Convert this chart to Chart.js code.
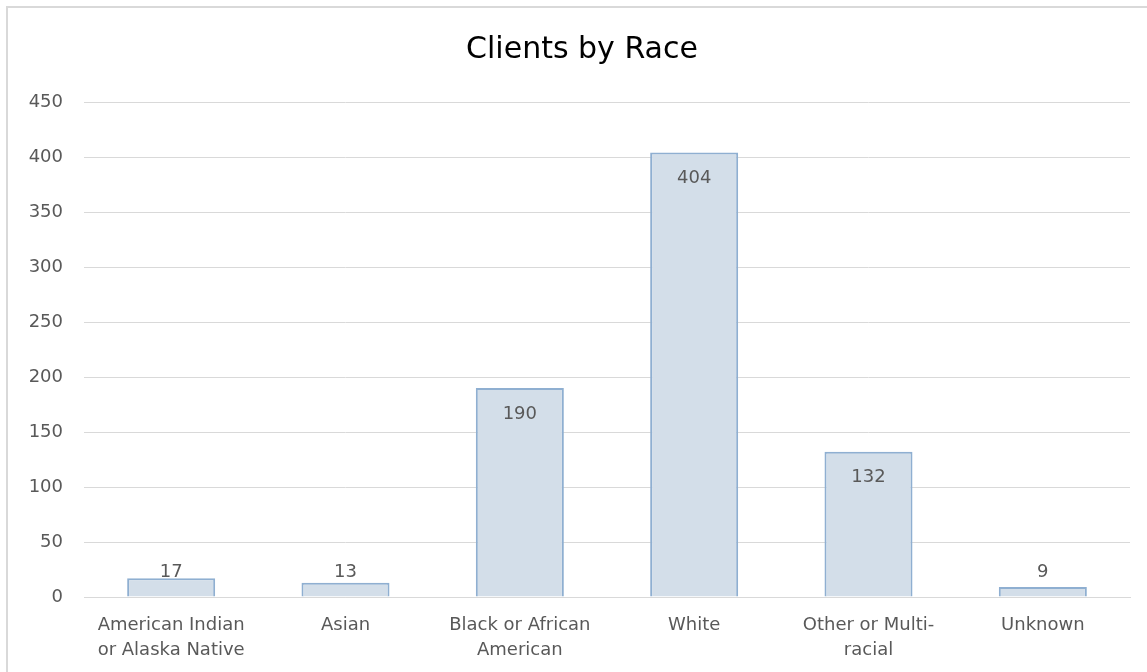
<!DOCTYPE html>
<html>
<head>
<meta charset="utf-8">
<script src="https://cdn.jsdelivr.net/npm/chart.js@4/dist/chart.umd.min.js"></script>
<style>
  html, body { margin: 0; padding: 0; background: #fff; overflow: hidden; }
  #box {
    position: absolute; left: 6px; top: 6px;
    width: 1160px; height: 680px;
    border: 2px solid #d9d9d9;
    background: #fff;
  }
  #chart { display: block; }
</style>
</head>
<body>
<div id="box"><canvas id="chart" width="1139" height="664"></canvas></div>
<script>
// categories and values
const categories = [
  ['American Indian', 'or Alaska Native'],
  'Asian',
  ['Black or African', 'American'],
  'White',
  ['Other or Multi-', 'racial'],
  'Unknown'
];
const clients = [17, 13, 190, 404, 132, 9];
const yTicks = [0, 50, 100, 150, 200, 250, 300, 350, 400, 450];
const chartTitle = 'Clients by Race';

const FONT = "'DejaVu Sans', sans-serif";
const GREY = '#595959';

// title is drawn by hand: in the original it sits off the plot centre
const titlePlugin = {
  id: 'titlePlugin',
  afterDraw(chart) {
    const ctx = chart.ctx;
    ctx.save();
    ctx.font = '30px ' + FONT;
    ctx.fillStyle = '#000';
    ctx.textAlign = 'center';
    ctx.textBaseline = 'middle';
    ctx.fillText(chartTitle, 574, 42);
    ctx.restore();
  }
};

// value labels just inside the top of each bar (excel "inside end")
const barLabels = {
  id: 'barLabels',
  afterDatasetsDraw(chart) {
    const ctx = chart.ctx;
    const meta = chart.getDatasetMeta(0);
    const base = chart.scales.y.getPixelForValue(0);
    ctx.save();
    ctx.font = '18px ' + FONT;
    ctx.fillStyle = GREY;
    ctx.textAlign = 'center';
    ctx.textBaseline = 'middle';
    meta.data.forEach((bar, i) => {
      let y = Math.min(bar.y + 26, base - 25);
      ctx.fillText(String(clients[i]), bar.x, y);
    });
    ctx.restore();
  }
};

new Chart(document.getElementById('chart'), {
  type: 'bar',
  data: {
    labels: categories,
    datasets: [{
      data: clients,
      backgroundColor: '#d3dee9',
      borderColor: '#8fafd1',
      borderWidth: 2,
      borderSkipped: 'bottom',
      categoryPercentage: 1,
      barPercentage: 0.505
    }]
  },
  options: {
    responsive: false,
    animation: false,
    layout: { padding: { top: 94, right: 17, bottom: 0, left: 0 } },
    plugins: {
      legend: { display: false },
      tooltip: { enabled: false },
      title: { display: false }
    },
    scales: {
      x: {
        grid: { display: false },
        border: { display: true, color: '#d9d9d9', width: 1 },
        ticks: {
          color: GREY,
          font: { family: FONT, size: 18, lineHeight: 1.4 },
          padding: 8,
          maxRotation: 0,
          autoSkip: false
        },
        afterFit(scale) { scale.height = 75; }
      },
      y: {
        min: 0,
        max: 450,
        afterBuildTicks(scale) { scale.ticks = yTicks.map(v => ({ value: v })); },
        grid: { color: '#d9d9d9', lineWidth: 1, drawTicks: false },
        border: { display: false },
        ticks: {
          color: GREY,
          font: { family: FONT, size: 18 },
          padding: 21
        },
        afterFit(scale) { scale.width = 76; }
      }
    }
  },
  plugins: [barLabels, titlePlugin]
});
</script>
</body>
</html>
